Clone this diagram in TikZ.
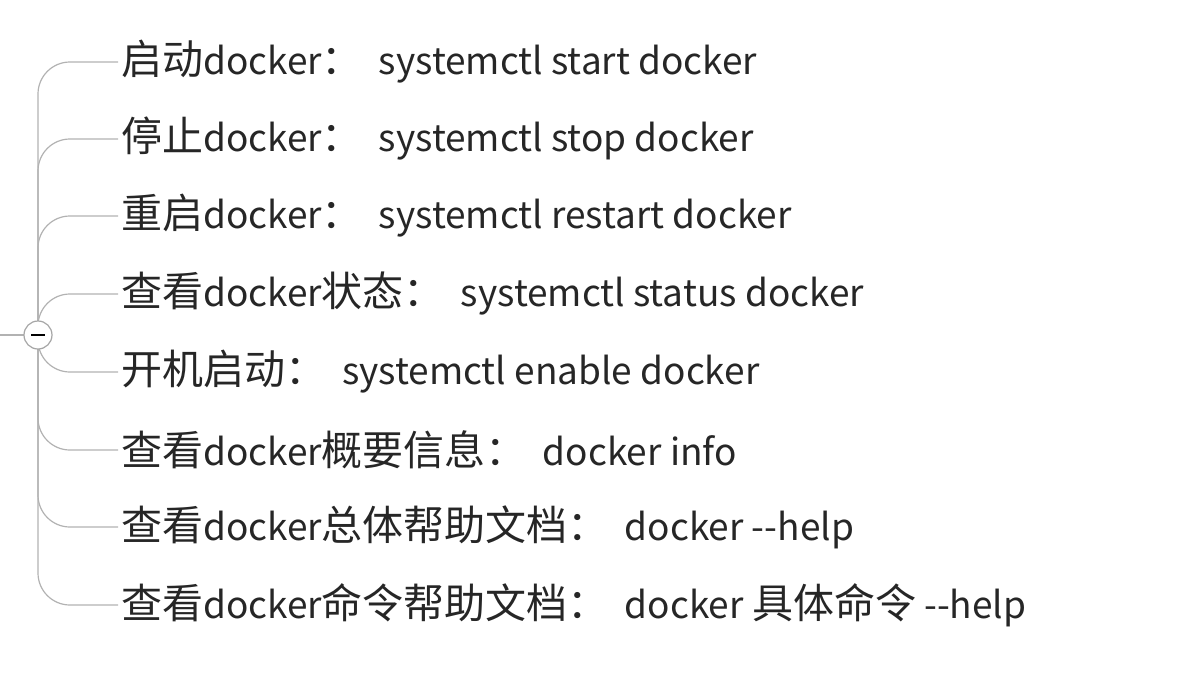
\documentclass[tikz,border=0pt]{standalone}
\usepackage{fontspec}
\setmainfont{Noto Sans CJK SC}
\newcommand{\zh}[1]{{\fontsize{41}{44}\selectfont #1}}
\newcommand{\gp}{\hspace{16pt}}
\begin{document}
\begin{tikzpicture}[x=1pt,y=-1pt,
  item/.style={anchor=west,inner sep=3pt,font=\fontsize{37}{40}\selectfont,text=black!85},
  branch/.style={draw=black!30,line width=1.2pt,rounded corners=32pt}]
\useasboundingbox (0,0) rectangle (1187,675);
\node[item] (n1) at (118,62) {\zh{启动}docker\zh{：}\gp systemctl start docker};
\node[item] (n2) at (118,139) {\zh{停止}docker\zh{：}\gp systemctl stop docker};
\node[item] (n3) at (118,216) {\zh{重启}docker\zh{：}\gp systemctl restart docker};
\node[item] (n4) at (118,294) {\zh{查看}docker\zh{状态：}\gp systemctl status docker};
\node[item] (n5) at (118,372) {\zh{开机启动：}\gp systemctl enable docker};
\node[item] (n6) at (118,450) {\zh{查看}docker\zh{概要信息：}\gp docker info};
\node[item] (n7) at (118,527) {\zh{查看}docker\zh{总体帮助文档：}\gp docker -{}-help};
\node[item] (n8) at (118,605) {\zh{查看}docker\zh{命令帮助文档：}\gp docker \zh{具体命令} -{}-help};
\coordinate (c) at (38,335);
\coordinate (l) at (0,335);
\draw[draw=black!30,line width=1.2pt] (l) -- (c);
\foreach \i in {1,...,8}{
  \draw[branch] (c) -- (c |- n\i.west) -- (n\i.west);
}
\node[circle,draw=black!35,fill=white,line width=1.2pt,minimum size=28pt,inner sep=0pt] (cc) at (c) {};
\draw[line width=1.5pt] ([xshift=-7pt]cc.center) -- ([xshift=7pt]cc.center);
\end{tikzpicture}
\end{document}
